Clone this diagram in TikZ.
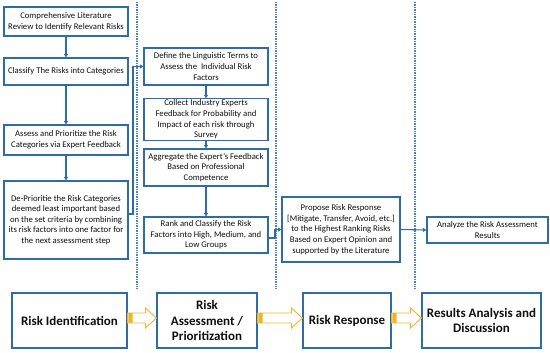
\documentclass[tikz,border=0pt]{standalone}
\usepackage{fontspec}
\setmainfont{Carlito}
\usetikzlibrary{arrows.meta,calc}
\definecolor{boxblue}{RGB}{46,108,168}
\definecolor{dotblue}{RGB}{80,130,190}
\definecolor{gold}{RGB}{240,180,40}
\definecolor{txt}{RGB}{15,15,15}
\tikzset{
  sbox/.style={draw=boxblue,line width=1.1pt,fill=white,align=center,inner sep=1pt,
    text=txt,font=\fontsize{8.7}{10.6}\selectfont},
  bbox/.style={draw=boxblue,line width=1.1pt,fill=white,align=center,inner sep=1pt,
    text=txt,font=\fontsize{13}{15.5}\selectfont\bfseries},
  conn/.style={draw=boxblue,line width=1.1pt,-{Triangle[length=3.5pt,width=4pt]}},
  sep/.style={draw=dotblue,line width=1.2pt,dash pattern=on 0.8pt off 0.9pt},
  yarr/.style={draw=gold,line width=0.9pt,fill=white},
}
\newcommand\stripearrow[2]{%
  \draw[yarr] let \p1=(#1.east), \p2=(#2.west) in
    (\x1+4.5pt,\y1+7.5pt) -- (\x2-11pt,\y1+7.5pt) -- (\x2-11pt,\y1+12.5pt) -- (\x2,\y1+2.5pt)
    -- (\x2-11pt,\y1-7.5pt) -- (\x2-11pt,\y1-2.5pt) -- (\x1+4.5pt,\y1-2.5pt) -- cycle
    (\x1,\y1-2.5pt) rectangle (\x1+1.5pt,\y1+7.5pt)
    (\x1+2.5pt,\y1-2.5pt) rectangle (\x1+3.5pt,\y1+7.5pt);}
\begin{document}
\begin{tikzpicture}[x=1pt,y=-1pt]
\useasboundingbox[fill=white] (0,0) rectangle (550,353);
% separators
\coordinate (d1t) at (137,2); \coordinate (d1b) at (137,288);
\coordinate (d2t) at (276,2); \coordinate (d2b) at (276,288);
\coordinate (d3t) at (415,2); \coordinate (d3b) at (415,288);
\draw[sep] (d1t) -- (d1b);
\draw[sep] (d2t) -- (d2b);
\draw[sep] (d3t) -- (d3b);
% column 1
\node[sbox,minimum width=124pt,minimum height=29pt] (b1) at (66,21.5)
  {Comprehensive Literature\\Review to Identify Relevant Risks};
\node[sbox,minimum width=124pt,minimum height=27pt] (b2) at (66,71.5)
  {Classify The Risks into Categories};
\node[sbox,minimum width=124pt,minimum height=30pt] (b3) at (66,140)
  {Assess and Prioritize the Risk\\Categories via Expert Feedback};
\node[sbox,minimum width=124pt,minimum height=78pt] (b4) at (66,220)
  {De-Prioritie the Risk Categories\\deemed least important based\\on the set criteria by combining\\its risk factors into one factor for\\the next assessment step};
% column 2
\node[sbox,minimum width=124pt,minimum height=37pt] (c1) at (206,66.5)
  {Define the Linguistic Terms to\\Assess the \ Individual Risk\\Factors};
\node[sbox,minimum width=124pt,minimum height=41pt] (c2) at (206,119.5)
  {Collect Industry Experts\\Feedback for Probability and\\Impact of each risk through\\Survey};
\node[sbox,minimum width=124pt,minimum height=37pt] (c3) at (206,167.5)
  {Aggregate the Expert’s Feedback\\Based on Professional\\Competence};
\node[sbox,minimum width=124pt,minimum height=36pt] (c4) at (206,235)
  {Rank and Classify the Risk\\Factors into High, Medium, and\\Low Groups};
% column 3 and 4
\node[sbox,minimum width=118pt,minimum height=65pt] (p) at (341,229.5)
  {Propose Risk Response\\{[}Mitigate, Transfer, Avoid, etc.{]}\\to the Highest Ranking Risks\\Based on Expert Opinion and\\supported by the Literature};
\node[sbox,minimum width=121pt,minimum height=26pt] (a) at (487.5,230)
  {Analyze the Risk Assessment\\Results};
% bottom row
\node[bbox,minimum width=115pt,minimum height=55pt] (r1) at (69.5,320.5) {Risk Identification};
\node[bbox,minimum width=100pt,minimum height=55pt] (r2) at (207,320.5) {Risk\\Assessment /\\Prioritization};
\node[bbox,minimum width=88pt,minimum height=55pt] (r3) at (347,320.5) {Risk Response};
\node[bbox,minimum width=119pt,minimum height=55pt] (r4) at (481.5,320.5) {Results Analysis and\\Discussion};
% connectors
\draw[conn] (b1) -- (b2);
\draw[conn] (b2) -- (b3);
\draw[conn] (b3) -- (b4);
\coordinate (k1) at (133,214);
\draw[conn] ([yshift=6pt]b4.east) -- (k1) |- (c1.west);
\draw[conn] (c1) -- (c2);
\draw[conn] (c2) -- (c3);
\draw[conn] (c3) -- (c4);
\coordinate (k2) at (275,238);
\draw[conn] ([yshift=-3pt]c4.east) -- (k2) |- (p.west);
\draw[conn] (p.east) -- (a.west);
% block arrows
\stripearrow{r1}{r2}
\stripearrow{r2}{r3}
\stripearrow{r3}{r4}
\end{tikzpicture}
\end{document}
